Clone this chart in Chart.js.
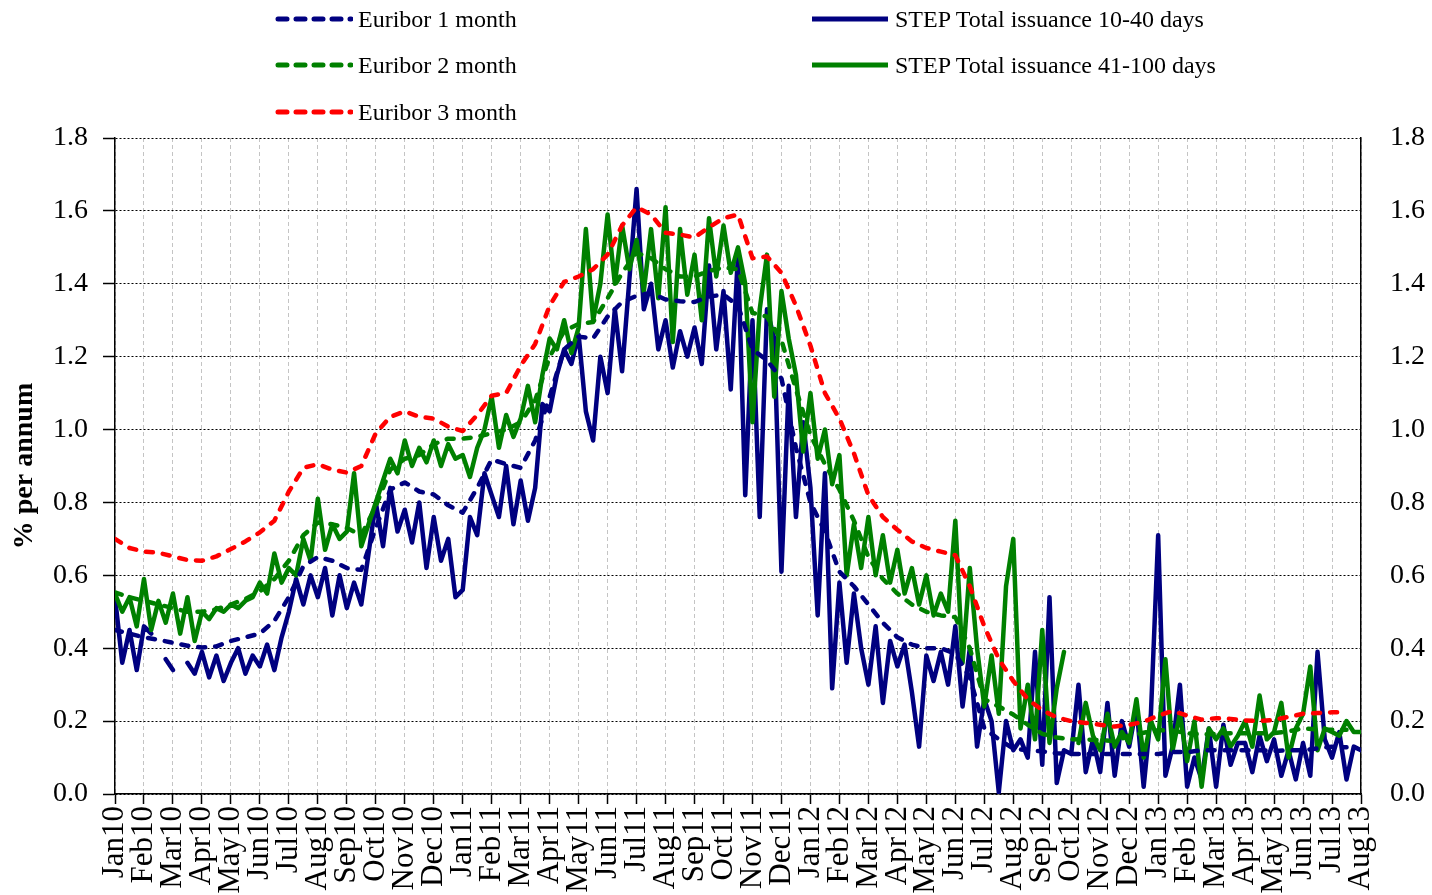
<!DOCTYPE html>
<html><head><meta charset="utf-8">
<script src="https://cdn.jsdelivr.net/npm/chart.js@4.4.0/dist/chart.umd.min.js"></script>
<style>
html,body{margin:0;padding:0;background:#fff;}
#wrap{position:relative;width:1432px;height:895px;overflow:hidden;}
#c{position:absolute;left:0;top:0;}
.lg{position:absolute;height:26px;display:flex;align-items:center;font-family:"Liberation Serif","Times New Roman",serif;font-size:24px;color:#000;white-space:nowrap;}
.lg svg{margin-right:5px;}
</style></head>
<body><div id="wrap"><canvas id="c" width="1432" height="895"></canvas><div id="legend"></div></div>
<script>
// ---- data (x positions are months since Jan 2010) ----
const monthLabels = ["Jan10","Feb10","Mar10","Apr10","May10","Jun10","Jul10","Aug10","Sep10","Oct10","Nov10","Dec10",
 "Jan11","Feb11","Mar11","Apr11","May11","Jun11","Jul11","Aug11","Sep11","Oct11","Nov11","Dec11",
 "Jan12","Feb12","Mar12","Apr12","May12","Jun12","Jul12","Aug12","Sep12","Oct12","Nov12","Dec12",
 "Jan13","Feb13","Mar13","Apr13","May13","Jun13","Jul13","Aug13"];
const yTicks = [0,0.2,0.4,0.6,0.8,1.0,1.2,1.4,1.6,1.8];

// Euribor observations every half month, Jan10 .. mid Jul13
const eurDates = [];
for (let i = 0; i <= 85; i++) eurDates.push(i * 0.5);

const euribor1m = [0.45,0.44,0.43,0.423,0.415,0.407,0.402,0.405,0.42,0.43,0.44,0.475,0.54,0.625,0.65,0.64,0.62,0.615,
 0.73,0.835,0.855,0.83,0.822,0.792,0.772,0.84,0.918,0.905,0.895,0.97,1.09,1.22,1.255,1.25,1.31,1.35,1.367,1.375,
 1.357,1.352,1.35,1.365,1.37,1.34,1.22,1.19,1.14,0.95,0.80,0.72,0.61,0.57,0.52,0.47,0.43,0.41,0.40,0.40,0.385,
 0.32,0.18,0.15,0.125,0.12,0.117,0.112,0.11,0.11,0.11,0.11,0.11,0.11,0.11,0.115,0.115,0.12,0.12,0.12,0.12,0.12,
 0.118,0.12,0.12,0.125,0.13,0.128];
const euribor2m = [0.553,0.54,0.53,0.52,0.51,0.50,0.50,0.507,0.52,0.535,0.556,0.59,0.64,0.71,0.745,0.74,0.73,0.71,
 0.79,0.89,0.92,0.93,0.96,0.975,0.975,0.98,0.99,1.00,1.02,1.08,1.20,1.27,1.29,1.295,1.36,1.43,1.485,1.47,
 1.44,1.42,1.42,1.435,1.445,1.44,1.32,1.31,1.245,1.11,0.985,0.905,0.835,0.75,0.65,0.59,0.55,0.52,0.50,0.49,0.485,
 0.40,0.26,0.24,0.218,0.19,0.165,0.155,0.15,0.149,0.148,0.145,0.16,0.168,0.175,0.174,0.167,0.163,0.165,0.167,0.167,0.167,
 0.167,0.172,0.18,0.177,0.176,0.176];
const euribor3m = [0.70,0.675,0.665,0.662,0.652,0.642,0.640,0.652,0.672,0.693,0.718,0.75,0.83,0.895,0.905,0.89,0.882,0.90,
 0.99,1.035,1.05,1.035,1.03,1.008,0.996,1.04,1.093,1.10,1.175,1.235,1.34,1.405,1.42,1.44,1.48,1.56,1.61,1.59,
 1.54,1.535,1.527,1.555,1.58,1.59,1.47,1.475,1.43,1.34,1.23,1.10,1.03,0.935,0.82,0.76,0.725,0.693,0.675,0.665,0.655,
 0.57,0.46,0.37,0.31,0.26,0.23,0.21,0.20,0.195,0.19,0.185,0.19,0.198,0.215,0.228,0.215,0.204,0.208,0.206,0.202,0.200,
 0.203,0.212,0.22,0.222,0.224,0.224];

// STEP issuance yields, roughly weekly observations
const stepDates = [];
for (let i = 0; i <= 172; i++) stepDates.push(i * 0.25);

const step10to40 = [
 0.54,0.36,0.45,0.34, 0.46,0.44,null,0.37, 0.34,null,0.36,0.33, 0.39,0.32,0.38,0.31,
 0.36,0.40,0.33,0.38, 0.35,0.41,0.34,0.43, 0.50,0.59,0.52,0.60, 0.54,0.62,0.49,0.60,
 0.51,0.58,0.52,0.66, 0.80,0.68,0.84,0.72, 0.78,0.69,0.80,0.62, 0.76,0.64,0.70,0.54,
 0.56,0.76,0.71,0.88, 0.82,0.76,0.90,0.74, 0.86,0.75,0.84,1.07, 1.05,1.15,1.22,1.18,
 1.26,1.05,0.97,1.20, 1.10,1.33,1.16,1.41, 1.66,1.33,1.40,1.22, 1.30,1.17,1.27,1.20,
 1.28,1.18,1.45,1.22, 1.38,1.11,1.48,0.82, 1.30,0.76,1.33,1.25, 0.61,1.12,0.76,1.02,
 0.84,0.49,0.88,0.29, 0.58,0.36,0.55,0.40, 0.30,0.46,0.25,0.42, 0.35,0.41,0.28,0.13,
 0.38,0.31,0.39,0.30, 0.46,0.24,0.40,0.13, 0.26,0.20,0.005,0.20, 0.12,0.15,0.10,0.39,
 0.08,0.54,0.03,0.12, 0.11,0.30,0.06,0.15, 0.06,0.25,0.05,0.20, 0.13,0.24,0.02,0.22,
 0.71,0.05,0.13,0.30, 0.02,0.10,0.04,0.18, 0.02,0.19,0.08,0.14, 0.14,0.06,0.16,0.09,
 0.15,0.05,0.12,0.04, 0.14,0.05,0.39,0.15, 0.10,0.17,0.04,0.13, 0.12];
const step41to100 = [
 0.55,0.50,0.54,0.46, 0.59,0.45,0.53,0.47, 0.55,0.44,0.54,0.42, 0.50,0.48,0.51,0.50,
 0.52,0.51,0.53,0.54, 0.58,0.55,0.66,0.58, 0.62,0.60,0.70,0.64, 0.81,0.67,0.74,0.70,
 0.72,0.88,0.68,0.74, 0.80,0.86,0.92,0.88, 0.97,0.90,0.95,0.91, 0.97,0.90,0.96,0.92,
 0.93,0.87,0.95,1.00, 1.09,0.95,1.04,0.98, 1.03,1.12,1.02,1.15, 1.25,1.22,1.30,1.21,
 1.28,1.55,1.30,1.40, 1.59,1.40,1.56,1.44, 1.52,1.38,1.55,1.36, 1.61,1.24,1.55,1.37,
 1.48,1.30,1.58,1.42, 1.56,1.43,1.50,1.40, 1.02,1.33,1.48,1.09, 1.38,1.25,1.15,0.94,
 1.10,0.92,1.00,0.85, 0.93,0.60,0.74,0.62, 0.76,0.60,0.71,0.58, 0.67,0.55,0.62,0.52,
 0.60,0.49,0.55,0.50, 0.75,0.36,0.62,0.40, 0.24,0.38,0.22,0.57, 0.70,0.18,0.30,0.15,
 0.45,0.14,0.29,0.39, null,0.14,0.25,0.16, 0.12,0.22,0.13,0.17, 0.14,0.26,0.10,0.20,
 0.15,0.37,0.12,0.22, 0.09,0.20,0.02,0.18, 0.15,0.18,0.13,0.16, 0.20,0.13,0.27,0.15,
 0.17,0.25,0.10,0.18, 0.22,0.35,0.12,0.18, 0.17,0.16,0.20,0.17, 0.17];

const seriesNames = ["Euribor 1 month","Euribor 2 month","Euribor 3 month","STEP Total issuance 10-40 days","STEP Total issuance 41-100 days"];
const NAVY = "#000080", GREEN = "#008000", RED = "#ff0000";

// ---- legend (HTML) ----
const legendItems = [
  {name: seriesNames[0], color: NAVY, dashed: true, left: 275, cy: 19},
  {name: seriesNames[1], color: GREEN, dashed: true, left: 275, cy: 65},
  {name: seriesNames[2], color: RED, dashed: true, left: 275, cy: 112},
  {name: seriesNames[3], color: NAVY, dashed: false, left: 812, cy: 19},
  {name: seriesNames[4], color: GREEN, dashed: false, left: 812, cy: 65}
];
const lg = document.getElementById('legend');
legendItems.forEach(it => {
  const d = document.createElement('div');
  d.className = 'lg';
  d.style.left = it.left + 'px';
  d.style.top = (it.cy - 13) + 'px';
  const dash = it.dashed ? ' stroke-dasharray="9 9" stroke-linecap="round"' : ' stroke-linecap="butt"';
  const x1 = it.dashed ? 3 : 0;
  d.innerHTML = '<svg width="78" height="8"><line x1="' + x1 + '" y1="4" x2="76" y2="4" stroke="' + it.color + '" stroke-width="5"' + dash + '/></svg><span>' + it.name + '</span>';
  lg.appendChild(d);
});

// ---- chart ----
const toXY = (xs, ys) => xs.map((x, i) => ({x: x, y: ys[i]}));
const serif = "'Liberation Serif','Times New Roman',serif";

const datasets = [
  {label: seriesNames[3], data: toXY(stepDates, step10to40), borderColor: NAVY, borderWidth: 4.5, order: 4},
  {label: seriesNames[4], data: toXY(stepDates, step41to100), borderColor: GREEN, borderWidth: 4.5, order: 3},
  {label: seriesNames[0], data: toXY(eurDates, euribor1m), borderColor: NAVY, borderWidth: 4.5, borderDash: [7, 10], order: 2},
  {label: seriesNames[1], data: toXY(eurDates, euribor2m), borderColor: GREEN, borderWidth: 4.5, borderDash: [7, 10], order: 1},
  {label: seriesNames[2], data: toXY(eurDates, euribor3m), borderColor: RED, borderWidth: 4.5, borderDash: [7, 10], order: 0}
].map(d => Object.assign({
  pointRadius: 0, fill: false, tension: 0, spanGaps: false,
  borderCapStyle: 'round', borderJoinStyle: 'round', yAxisID: 'y'
}, d));

new Chart(document.getElementById('c'), {
  type: 'line',
  data: {datasets},
  options: {
    responsive: false, animation: false, devicePixelRatio: 1,
    layout: {padding: {top: 138, left: 0, right: 0, bottom: 0}},
    plugins: {legend: {display: false}, tooltip: {enabled: false}},
    scales: {
      x: {
        type: 'linear', min: 0, max: monthLabels.length - 1,
        afterFit: s => { s.height = 101; },
        afterBuildTicks: s => { s.ticks = monthLabels.map((l, i) => ({value: i})); },
        ticks: {autoSkip: false, minRotation: 90, maxRotation: 90, padding: 2, color: '#000',
          font: {family: serif, size: 31}, callback: v => monthLabels[v]},
        grid: {color: '#c4c4c4', lineWidth: 1, tickLength: 10, tickColor: '#000', tickWidth: 1.5},
        border: {display: true, color: '#000', width: 1.5, dash: [4, 3]}
      },
      y: {
        position: 'left', min: 0, max: 1.8,
        afterFit: s => { s.width = 115; },
        afterBuildTicks: s => { s.ticks = yTicks.map(v => ({value: v})); },
        ticks: {padding: 15, color: '#000', font: {family: serif, size: 28}, callback: v => Number(v).toFixed(1)},
        grid: {color: '#000', lineWidth: 1, tickLength: 12, tickColor: '#000', tickWidth: 1.5},
        border: {display: true, color: '#000', width: 1.5, dash: [2, 2]},
        title: {display: true, text: '% per annum', color: '#000',
          font: {family: serif, size: 28, weight: 'bold'}, padding: {top: 8, bottom: 0}}
      },
      y2: {
        position: 'right', min: 0, max: 1.8,
        afterFit: s => { s.width = 71; },
        afterBuildTicks: s => { s.ticks = yTicks.map(v => ({value: v})); },
        ticks: {padding: 29, color: '#000', font: {family: serif, size: 28}, callback: v => Number(v).toFixed(1)},
        grid: {display: false, drawTicks: false},
        border: {display: true, color: '#000', width: 1.5}
      }
    }
  }
});
</script></body></html>
